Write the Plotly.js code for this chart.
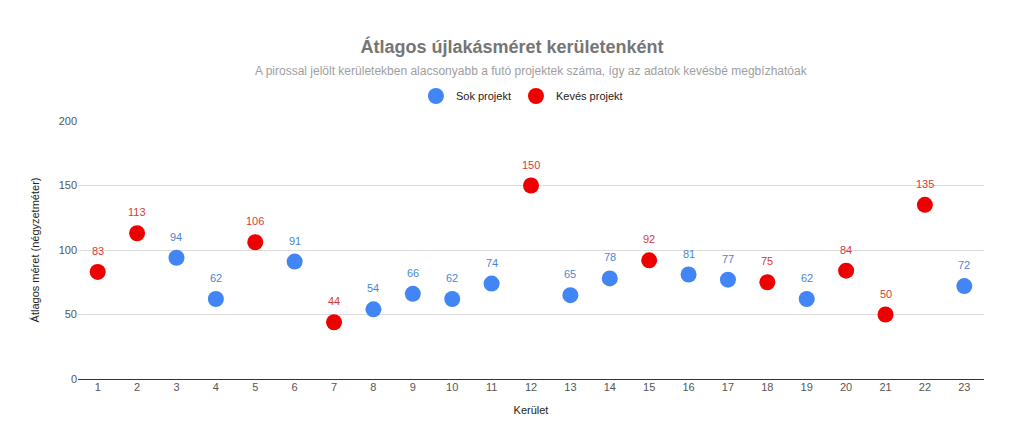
<!DOCTYPE html>
<html><head><meta charset="utf-8">
<script src="https://cdn.plot.ly/plotly-3.0.1.min.js"></script>
<style>html,body{margin:0;padding:0;background:#fff;}</style>
</head><body>
<div id="chart" style="width:1024px;height:447px;"></div>
<script>
const districts = ["1","2","3","4","5","6","7","8","9","10","11","12","13","14","15","16","17","18","19","20","21","22","23"];
const sizes = [83,113,94,62,106,91,44,54,66,62,74,150,65,78,92,81,77,75,62,84,50,135,72];
const fewProjects = [true,true,false,false,true,false,true,false,false,false,false,true,false,false,true,false,false,true,false,true,true,true,false];

const manyX = [], manyY = [], fewX = [], fewY = [];
districts.forEach((d, i) => {
  if (fewProjects[i]) { fewX.push(d); fewY.push(sizes[i]); }
  else { manyX.push(d); manyY.push(sizes[i]); }
});

const font = "Liberation Sans, Arial, sans-serif";
const blue = "#4285F4", red = "#EE0000";
const traces = [
  {x: manyX, y: manyY, name: "Sok projekt", type: "scatter", mode: "markers",
   marker: {color: blue, size: 16}, cliponaxis: false},
  {x: fewX, y: fewY, name: "Kevés projekt", type: "scatter", mode: "markers",
   marker: {color: red, size: 16}, cliponaxis: false}
];

// on a category axis, annotation x is the category index
const labelAnns = districts.map((d, i) => ({
  x: districts.indexOf(d), y: sizes[i], xref: "x", yref: "y", text: String(sizes[i]), showarrow: false,
  yshift: 21, font: {size: 11, family: font, color: fewProjects[i] ? "#d63a3a" : "#4a86d6"}
}));

const layout = {
  width: 1024, height: 447,
  margin: {l: 78, r: 40, t: 121, b: 68},
  paper_bgcolor: "#fff", plot_bgcolor: "#fff",
  font: {family: font, color: "#444"},
  title: {text: "<b>Átlagos újlakásméret kerületenként</b>", font: {size: 18, color: "#757575", family: font},
          x: 0.5, xanchor: "center", y: 1 - 47/447, yanchor: "middle"},
  annotations: [{text: "A pirossal jelölt kerületekben alacsonyabb a futó projektek száma, így az adatok kevésbé megbízhatóak",
    xref: "paper", yref: "paper", x: 0.5, y: 1 + (121 - 71)/258, xanchor: "center", yanchor: "middle",
    showarrow: false, font: {size: 12, color: "#9e9e9e", family: font}}].concat(labelAnns),
  legend: {orientation: "h", x: 0.49, xanchor: "center", y: 1 + (121 - 96)/258, yanchor: "middle",
           font: {size: 11, color: "#222"}, itemwidth: 30},
  xaxis: {type: "category", categoryorder: "array", categoryarray: districts,
          range: [-0.5, 22.5], showgrid: false, showline: false, zeroline: false,
          ticks: "", tickfont: {size: 11, color: "#555"},
          title: {text: "Kerület", font: {size: 11, color: "#222"}, standoff: 14}},
  yaxis: {range: [0, 200], tickvals: [0, 50, 100, 150, 200], gridcolor: "#dcdcdc",
          zeroline: true, zerolinecolor: "#333", zerolinewidth: 1.3,
          showline: false, ticks: "", tickfont: {size: 11, color: "#555"},
          title: {text: "Átlagos méret (négyzetméter)", font: {size: 11, color: "#222"}, standoff: 16}},
  showlegend: true
};

Plotly.newPlot("chart", traces, layout, {displayModeBar: false, responsive: false});
</script>
</body></html>
